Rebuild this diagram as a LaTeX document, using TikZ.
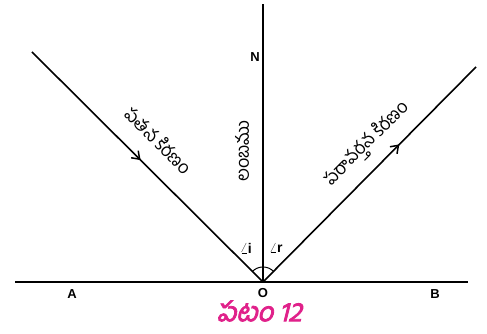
\documentclass[tikz,border=0pt]{standalone}
\usepackage{fontspec}
\setmainfont{Liberation Sans}
\newfontfamily\telfont[Script=Telugu]{Hind Guntur}
\newfontfamily\telcap[Script=Telugu,FakeSlant=0.25,FakeBold=3]{Hind Guntur}
\usetikzlibrary{arrows.meta,decorations.markings}
\definecolor{capmag}{HTML}{E0218A}
\begin{document}
\begin{tikzpicture}[x=1pt,y=1pt,
  ray/.style={line width=1.6pt},
  base/.style={line width=1.3pt},
  ptlabel/.style={font=\fontsize{13}{15}\selectfont\bfseries, inner sep=0pt},
  tel/.style={font=\telfont\fontsize{18}{20}\selectfont, inner sep=0pt},
  midarrow/.style={postaction={decorate},decoration={markings,
     mark=at position #1 with {\arrow{Straight Barb[length=7pt,width=10pt,line width=1.5pt]}}}}]
\useasboundingbox (0,0) rectangle (487,334);
\coordinate (O) at (263,52);
\coordinate (S) at (32,282);
\coordinate (R) at (476,267);
\coordinate (Ntop) at (263,330);
\coordinate (L) at (15,52);
\coordinate (Rt) at (468,52);
\coordinate (A) at (72,52);
\coordinate (B) at (434,52);
\draw[base] (L) -- (Rt);
\draw[ray] (O) -- (Ntop);
\draw[ray, midarrow=0.47] (S) -- (O);
\draw[ray, midarrow=0.64] (O) -- (R);
\fill (A) circle (1);
\fill (B) circle (1);
\draw[line width=1pt] ([shift={(45:15)}]O) arc (45:135:15);
\node[ptlabel] (la) at (72,40) {A};
\node[ptlabel] (lo) at (263,41) {O};
\node[ptlabel] (lb) at (435,40) {B};
\node[ptlabel] (ln) at (255,277) {N};
\node[inner sep=0pt, font=\fontsize{14}{16}\selectfont] (li) at (246,86) {$\angle$\textbf{i}};
\node[inner sep=0pt, font=\fontsize{14}{16}\selectfont] (lr) at (276,86) {$\angle$\textbf{r}};
\node[tel, rotate=-45] (inc) at (159,194) {పతన కిరణం};
\node[tel, rotate=90] (nor) at (242,183) {లంబము};
\node[tel, rotate=45] (ref) at (367,190) {పరావర్తన కిరణం};
\node[inner sep=0pt, text=capmag, font=\telcap\fontsize{27}{30}\selectfont] (cap) at (259,23) {పటం 12};
\end{tikzpicture}
\end{document}
